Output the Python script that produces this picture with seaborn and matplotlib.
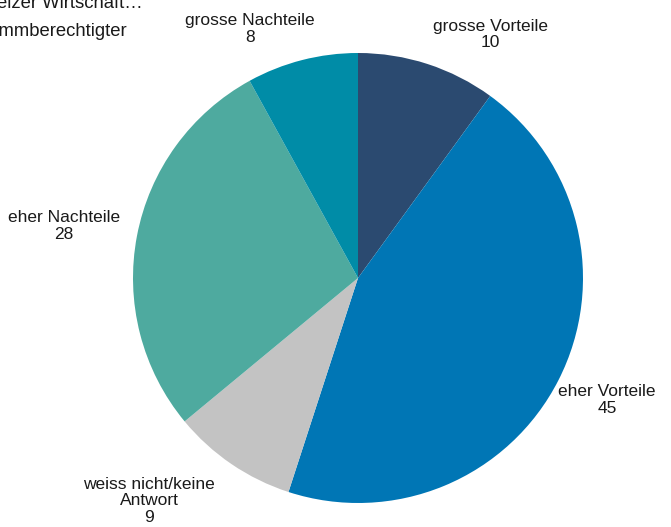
import matplotlib
matplotlib.use("Agg")
import matplotlib.pyplot as plt
import seaborn as sns

categories = ["grosse Vorteile", "eher Vorteile", "weiss nicht/keine\nAntwort",
              "eher Nachteile", "grosse Nachteile"]
values = [10, 45, 9, 28, 8]
colors = ["#2b4a70", "#0076b5", "#c3c3c3", "#4eaa9f", "#008ca7"]
# label centres in pie-radius units (style, not data)
label_pos = [(0.587, 1.084), (1.107, -0.542), (-0.929, -0.991), (-1.307, 0.231), (-0.48, 1.107)]

sns.set_theme(style="white")
plt.rcParams["font.family"] = ["Liberation Sans", "DejaVu Sans"]

W, H, DPI = 671, 527, 100
fig = plt.figure(figsize=(W / DPI, H / DPI), dpi=DPI)
ax = fig.add_axes([0, 0, 1, 1])
ax.pie(values, colors=colors, startangle=90, counterclock=False,
       radius=1.0, wedgeprops=dict(linewidth=0))
ax.set_aspect("auto")
cx, cy, r = 358, 278, 225
ax.set_xlim(-cx / r, (W - cx) / r)
ax.set_ylim(-(H - cy) / r, cy / r)
ax.axis("off")

for cat, v, (lx, ly) in zip(categories, values, label_pos):
    ax.text(lx, ly, f"{cat}\n{v}", ha="center", va="center", fontsize=12.5,
            color="#1a1a1a", linespacing=1.1)

fig.text(143 / W, 1 - 8 / H, "Folgen für die Schweizer Wirtschaft…", ha="right",
         va="baseline", fontsize=13.3, color="#1a1a1a")
fig.text(127 / W, 1 - 36 / H, "in % Stimmberechtigter", ha="right",
         va="baseline", fontsize=13.3, color="#1a1a1a")

fig.savefig("out.png", dpi=DPI)
